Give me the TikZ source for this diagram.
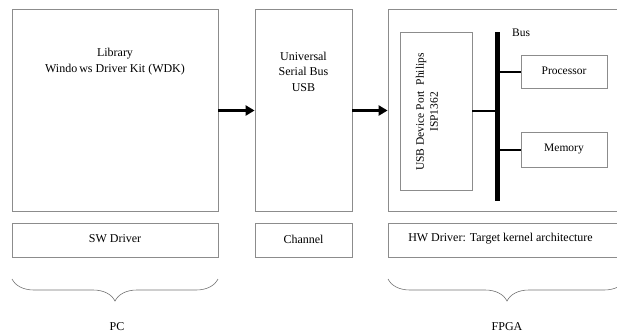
\documentclass[tikz,border=0pt]{standalone}
\usepackage{fontspec}
\setmainfont{Liberation Serif}
\usetikzlibrary{arrows.meta,decorations.pathreplacing}
\begin{document}
\begin{tikzpicture}[x=1pt,y=-1pt,
  box/.style={draw=black!45,line width=0.8pt,rectangle,inner sep=0pt},
  txt/.style={font=\fontsize{12}{15.5}\selectfont,align=center,inner sep=0pt},
  stxt/.style={font=\fontsize{11.5}{14}\selectfont,align=center,inner sep=0pt},
  bigarrow/.style={line width=2.6pt,-{Triangle[length=9pt,width=10pt]}},
  busline/.style={line width=2pt},
  grp/.style={draw=black!55,line width=0.6pt,decorate,decoration={brace,amplitude=22pt}}]
\useasboundingbox (0,0) rectangle (617,335);
% top row
\node[box,minimum width=206pt,minimum height=202pt] (lib) at (115,110.5) {};
\node[box,minimum width=97pt,minimum height=202pt] (usb) at (303.5,110.5) {};
\node[box,minimum width=246pt,minimum height=202pt] (fpga) at (511,110.5) {};
\node[txt] (libtxt) at (115,61.5) {Library\\Windo\,ws Driver Kit (WDK)};
\node[txt] (usbtxt) at (303.5,71.5) {Universal\\Serial Bus\\USB};
% inside FPGA
\node[box,minimum width=72pt,minimum height=158pt] (dev) at (436,111) {};
\node[stxt,rotate=90] (devtxt) at (427,112) {USB Device Port\ \ Philips\\ISP1362};
\coordinate (bustop) at (497,32);
\coordinate (busbot) at (497,201);
\draw[line width=5pt] (bustop) -- (busbot);
\node[stxt,anchor=west] (buslbl) at (512,33) {Bus};
\node[box,minimum width=86pt,minimum height=33pt] (proc) at (564,71.5) {};
\node[stxt] (proctxt) at (564,70.5) {Processor};
\node[box,minimum width=86pt,minimum height=35pt] (mem) at (564,150) {};
\node[stxt] (memtxt) at (564,149) {Memory};
\draw[busline] (dev.east) -- (dev.east -| bustop);
\draw[busline] (proc.west) -- (proc.west -| bustop);
\draw[busline] (mem.west) -- (mem.west -| bustop);
% arrows
\draw[bigarrow] (lib.east) -- (usb.west);
\draw[bigarrow] (usb.east) -- (fpga.west);
% bottom row
\node[box,minimum width=206pt,minimum height=34pt] (sw) at (115,240) {};
\node[txt] (swtxt) at (115,239) {SW Driver};
\node[box,minimum width=97pt,minimum height=34pt] (ch) at (303.5,240) {};
\node[txt] (chtxt) at (303.5,239) {Channel};
\node[box,minimum width=246pt,minimum height=34pt] (hw) at (511,240) {};
\node[txt] (hwtxt) at (500.5,239) {HW Driver: Target kernel architecture};
% braces
\coordinate (pcR) at (218,279);
\coordinate (pcL) at (12,279);
\draw[grp] (pcR) -- (pcL);
\coordinate (fpR) at (626,279);
\coordinate (fpL) at (388,279);
\draw[grp] (fpR) -- (fpL);
\node[txt] (pc) at (117,327) {PC};
\node[txt] (fp) at (507,327) {FPGA};
\end{tikzpicture}
\end{document}
